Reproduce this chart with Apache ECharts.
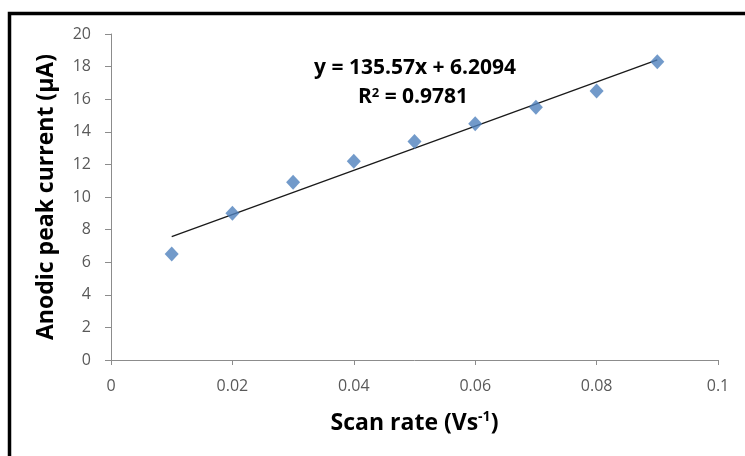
<!DOCTYPE html>
<html><head><meta charset="utf-8">
<script src="https://cdn.jsdelivr.net/npm/echarts@6/dist/echarts.min.js"></script>
<style>html,body{margin:0;padding:0;background:#fff}#c{width:745px;height:456px}</style>
</head><body><div id="c"></div>
<script>
const scanRate = [0.01, 0.02, 0.03, 0.04, 0.05, 0.06, 0.07, 0.08, 0.09];
const peakCurrent = [6.5, 9.0, 10.9, 12.2, 13.4, 14.5, 15.5, 16.5, 18.3];
const slope = 135.57;
const intercept = 6.2094;
const trendX = [0.01, 0.09];
const eqText = 'y = 135.57x + 6.2094';
const r2Text = '0.9781';

const font = '"Open Sans", Lato, sans-serif';
const chart = echarts.init(document.getElementById('c'), null, {renderer: 'canvas'});
chart.setOption({
  backgroundColor: '#fff',
  animation: false,
  grid: {left: 111, right: 27, top: 34, bottom: 96},
  xAxis: {
    type: 'value', min: 0, max: 0.1, interval: 0.02,
    axisLine: {show: true, lineStyle: {color: '#8c8c8c', width: 1}},
    axisTick: {show: true, inside: false, length: 5, lineStyle: {color: '#8c8c8c'}},
    splitLine: {show: false},
    axisLabel: {color: '#595959', fontSize: 16, fontFamily: font, margin: 18,
      formatter: v => String(+v.toFixed(2))},
    name: '{a|Scan rate (Vs}{s|-1}{a|)}',
    nameLocation: 'middle', nameGap: 50,
    nameTextStyle: {rich: {
      a: {fontSize: 23, fontWeight: 'bold', fontFamily: font, color: '#000'},
      s: {fontSize: 14, fontWeight: 'bold', fontFamily: font, color: '#000', verticalAlign: 'top', padding: [0,0,12,0]}
    }}
  },
  yAxis: {
    type: 'value', min: 0, max: 20, interval: 2,
    axisLine: {show: true, lineStyle: {color: '#8c8c8c', width: 1}},
    axisTick: {show: true, inside: false, length: 6, lineStyle: {color: '#8c8c8c'}},
    splitLine: {show: false},
    axisLabel: {color: '#595959', fontSize: 16, fontFamily: font, margin: 20},
    name: 'Anodic peak current (µA)',
    nameLocation: 'middle', nameGap: 53, nameRotate: 90,
    nameTextStyle: {fontSize: 23, fontWeight: 'bold', fontFamily: font, color: '#000'}
  },
  series: [
    {
      type: 'line', data: trendX.map(x => [x, slope * x + intercept]),
      showSymbol: false, symbol: 'none', lineStyle: {color: '#1a1a1a', width: 1.3}, z: 1
    },
    {
      type: 'scatter', data: scanRate.map((x, i) => [x, peakCurrent[i]]),
      symbol: 'diamond', symbolSize: [14, 15], itemStyle: {color: '#4F81BD'}, z: 2
    }
  ],
  graphic: [
    {type: 'rect', shape: {x: 9.5, y: 13.5, width: 800, height: 500},
      style: {fill: 'none', stroke: '#000', lineWidth: 3.5}, silent: true},
    {type: 'text', x: 415, y: 68, style: {text: eqText, align: 'center', verticalAlign: 'middle',
      font: 'bold 21px ' + font, fill: '#000'}},
    {type: 'text', x: 413, y: 97, style: {
      text: '{a|R}{s|2}{a| = ' + r2Text + '}', align: 'center', verticalAlign: 'middle',
      rich: {
        a: {fontSize: 21, fontWeight: 'bold', fontFamily: font, fill: '#000'},
        s: {fontSize: 13, fontWeight: 'bold', fontFamily: font, fill: '#000', verticalAlign: 'top', padding: [0,0,8,0]}
      }}}
  ]
});
</script></body></html>
